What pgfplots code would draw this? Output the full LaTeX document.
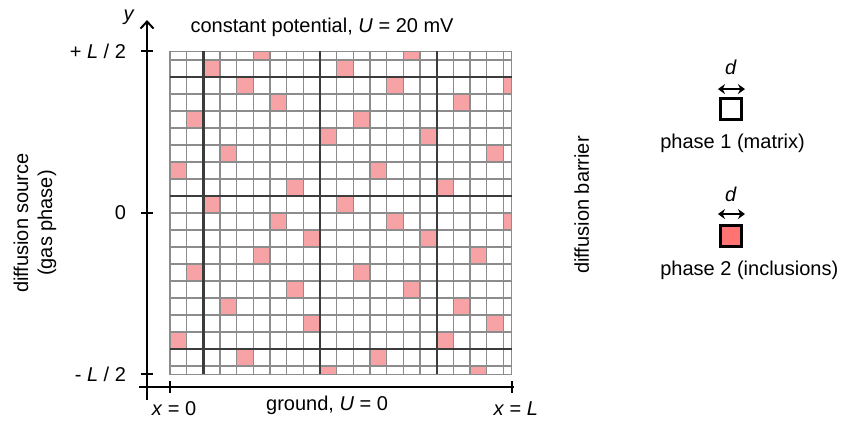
\documentclass[border=0pt]{standalone}
\usepackage{fontspec}
\setmainfont{Liberation Sans}
\usepackage{pgfplots}
\pgfplotsset{compat=1.18}
\usetikzlibrary{arrows.meta}

\definecolor{cellpink}{RGB}{247,163,166}
\definecolor{incpink}{RGB}{255,115,115}
\definecolor{thingrid}{RGB}{140,140,140}
\definecolor{thickgrid}{RGB}{60,60,60}

% centres of the inclusion cells (phase 2), in cell units
\pgfplotstableread{
x    y
5.5  9.5
14.5 9.5
2.5  8.5
10.5 8.5
4.5  7.5
13.5 7.5
20.5 7.5
6.5  6.5
17.5 6.5
1.5  5.5
11.5 5.5
9.5  4.5
15.5 4.5
3.5  3.5
19.5 3.5
0.5  2.5
12.5 2.5
7.5  1.5
16.5 1.5
2.5  0.5
10.5 0.5
6.5  -0.5
13.5 -0.5
20.5 -0.5
8.5  -1.5
15.5 -1.5
5.5  -2.5
18.5 -2.5
1.5  -3.5
11.5 -3.5
7.5  -4.5
14.5 -4.5
3.5  -5.5
17.5 -5.5
8.5  -6.5
19.5 -6.5
0.5  -7.5
16.5 -7.5
4.5  -8.5
12.5 -8.5
9.5  -9.5
18.5 -9.5
}\inclusions

\begin{document}
\begin{tikzpicture}
% the grid of cells
\begin{axis}[
    x=8.335pt, y=8.5pt, anchor=origin, at={(0pt,0pt)},
    xmin=0, xmax=20.5, ymin=-9.5, ymax=9.5,
    axis on top, clip marker paths=true,
    axis line style={thingrid, line width=0.7pt},
    xtick={1,3,4,5,6,7,8,10,11,12,13,14,15,17,18,19,20},
    ytick={-9,-7,-6,-5,-4,-3,-2,-1,0,2,3,4,5,6,7,9},
    extra x ticks={2,9,16}, extra y ticks={-8,1,8},
    tick label style={opacity=0, font=\tiny},
    major tick length=0pt,
    grid=major, major grid style={thingrid, line width=0.7pt},
    extra tick style={grid=major, major grid style={thickgrid, line width=1.2pt}},
]
\addplot[only marks, mark=square*, mark size=4.2pt,
    mark options={draw=none, fill=cellpink}] table {\inclusions};
\end{axis}
% coordinate axes and labels
\begin{axis}[
    x=8.335pt, y=8.5pt, anchor=origin, at={(0pt,0pt)},
    xmin=-1.38, xmax=20.65, ymin=-10.24, ymax=11.34,
    axis x line*=bottom, axis y line*=left,
    axis line style={line width=1pt, black},
    y axis line style={-{Straight Barb[length=3.5pt,width=6.5pt]}},
    xtick={0,20.5}, xticklabels={\textit{x} = 0, \textit{x} = \textit{L}},
    ytick={-9.5,0,9.5}, yticklabels={- \textit{L} / 2, 0, + \textit{L} / 2},
    tick align=center, major tick length=6pt,
    tick style={line width=1pt, black},
    yticklabel style={xshift=-4pt},
    xticklabel style={yshift=-1pt, xshift=2pt},
    clip=false,
]
\draw[line width=1pt] (axis cs:-1.85,-10.24) -- (axis cs:-1.38,-10.24);
\draw[line width=1pt] (axis cs:-1.38,-10.24) -- (axis cs:-1.38,-11.0);
\node at (axis cs:9.12,10.93) {constant potential, \textit{U} = 20 mV};
\node at (axis cs:-2.46,11.5) {\textit{y}};
\node at (axis cs:9.42,-11.3) {ground, \textit{U} = 0};
\node[rotate=90, align=center] at (axis cs:-8.1,-0.6) {diffusion source\\(gas phase)};
\node[rotate=90] at (axis cs:24.7,0.46) {diffusion barrier};
% legend of the two phases
\node at (axis cs:33.65,8.58) {\textit{d}};
\draw[line width=1pt, {Stealth[length=3.5pt,width=5pt]}-{Stealth[length=3.5pt,width=5pt]}]
    (axis cs:32.87,7.28) -- (axis cs:34.49,7.28);
\node[draw, line width=1.5pt, minimum size=10.5pt, inner sep=0pt, fill=white] at (axis cs:33.65,6.1) {};
\node[anchor=west, inner sep=0pt] at (axis cs:29.39,4.1) {phase 1 (matrix)};
\node at (axis cs:33.65,1.11) {\textit{d}};
\draw[line width=1pt, {Stealth[length=3.5pt,width=5pt]}-{Stealth[length=3.5pt,width=5pt]}]
    (axis cs:32.87,-0.07) -- (axis cs:34.49,-0.07);
\node[draw, line width=1.5pt, minimum size=10.5pt, inner sep=0pt, fill=incpink] at (axis cs:33.65,-1.38) {};
\node[anchor=west, inner sep=0pt] at (axis cs:29.39,-3.4) {phase 2 (inclusions)};
\path (axis cs:-10.2,12.52) rectangle (axis cs:40.31,-11.89);
\end{axis}
\end{tikzpicture}
\end{document}
